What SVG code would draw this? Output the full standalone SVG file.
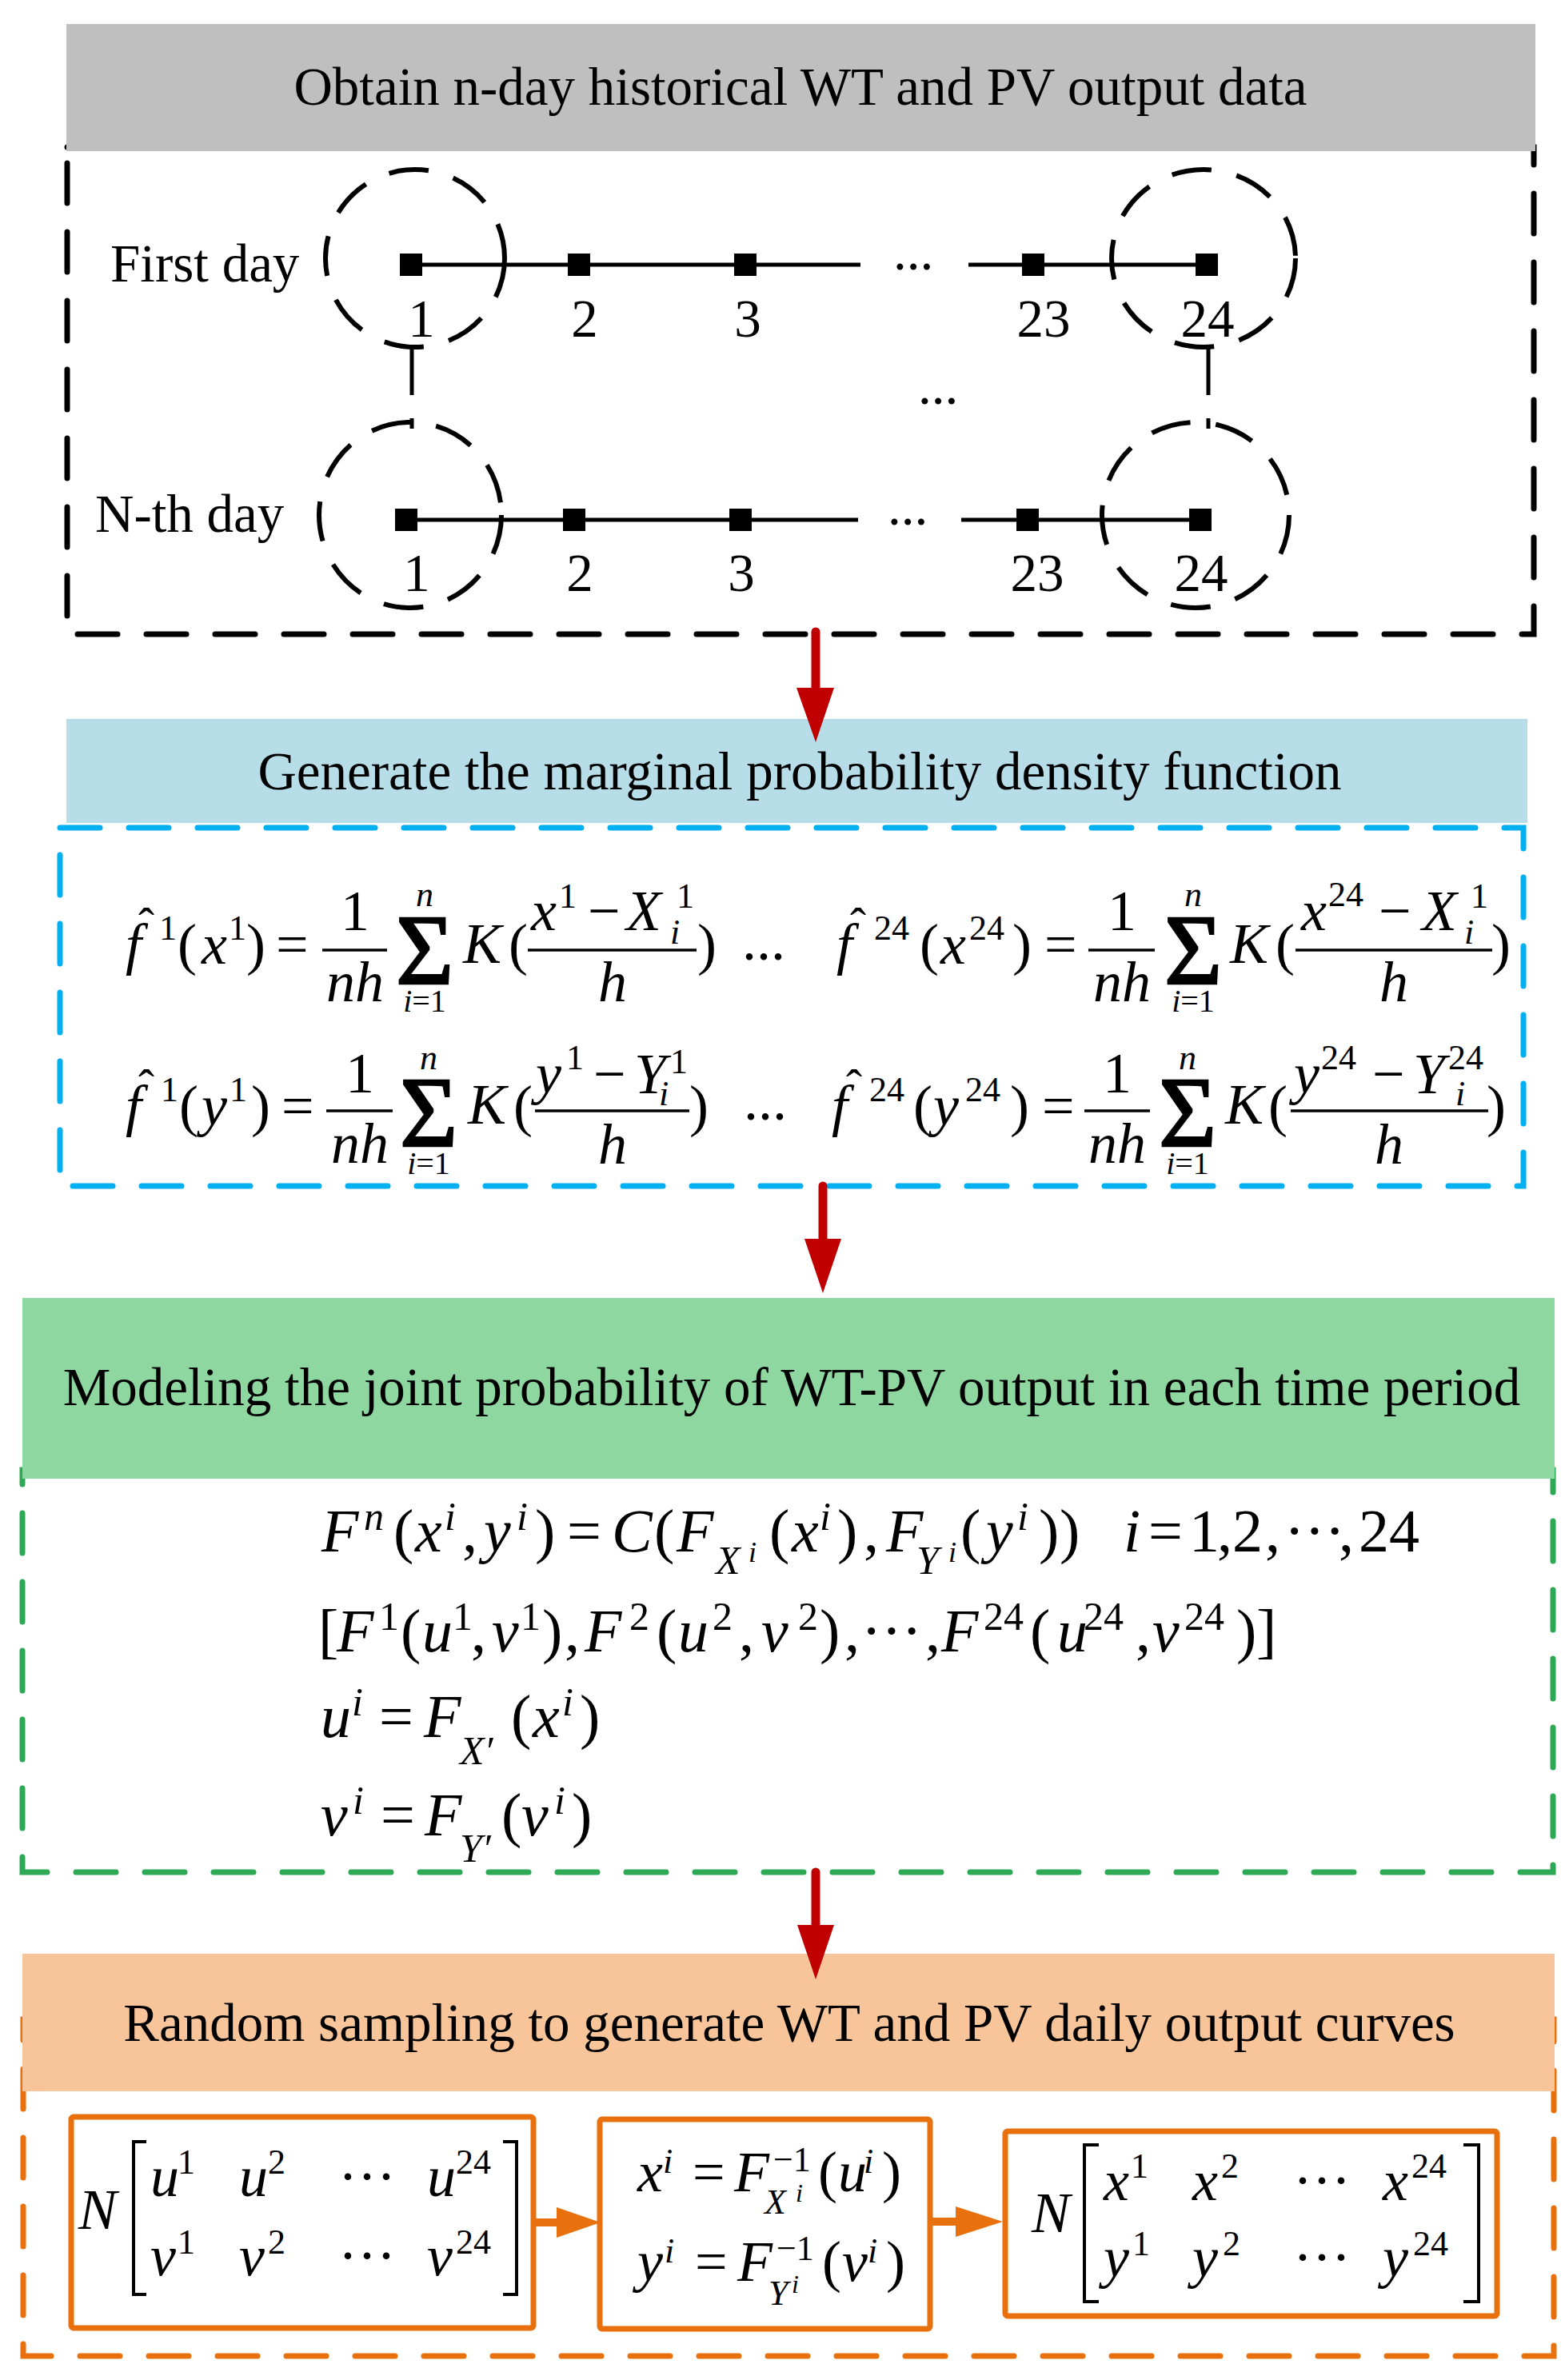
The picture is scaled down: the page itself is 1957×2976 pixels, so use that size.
<svg xmlns="http://www.w3.org/2000/svg" width="1957" height="2976" viewBox="0 0 1957 2976">
<style>
text{font-family:"Liberation Serif","Times New Roman",serif;fill:#000}
.i{font-style:italic}
.h{font-size:67px}
.m{font-size:72px}
.s{font-size:44px}
.l{font-size:40px}
.M{font-size:76px}
.S{font-size:50px}
.t36{font-size:36px}
.t32{font-size:32px}
.hat{font-size:60px}
.sig{font-size:124px;stroke:#000;stroke-width:2.5}
.c{text-anchor:middle}
.dk{fill:none;stroke:#000;stroke-width:7;stroke-dasharray:50 36;stroke-linecap:round}
.db{fill:none;stroke:#00B0F0;stroke-width:7;stroke-dasharray:50 36;stroke-linecap:round}
.dg{fill:none;stroke:#2DA955;stroke-width:7;stroke-dasharray:50 36;stroke-linecap:round}
.do{fill:none;stroke:#E8710E;stroke-width:7;stroke-dasharray:50 36;stroke-linecap:round}
.tl{stroke:#000;stroke-width:5;fill:none}
.el{fill:none;stroke:#000;stroke-width:6;stroke-dasharray:50 32}
.vc{stroke:#000;stroke-width:5;stroke-dasharray:58 29}
.sq{fill:#000}
.fr{stroke:#000;stroke-width:3.5}
.ob{fill:#fff;stroke:#E8710E;stroke-width:7}
.br{fill:none;stroke:#000;stroke-width:4}
.red{stroke:#C00000;stroke-width:11;stroke-linecap:round}
.redh{fill:#C00000}
.org{stroke:#E8710E;stroke-width:10}
.orgh{fill:#E8710E}
</style>
<rect x="0" y="0" width="1957" height="2976" fill="#fff"/>

<g id="node-obtain">
<rect x="84" y="184" width="1834" height="609" class="dk"/>
<rect x="83" y="30" width="1837" height="159" fill="#BFBFBF"/>
<text class="h c" x="1001" y="131">Obtain n-day historical WT and PV output data</text>
</g>

<g id="node-first-day">
<text class="h" x="138" y="352">First day</text>
<line class="tl" x1="514" y1="331" x2="1076" y2="331"/>
<line class="tl" x1="1211" y1="331" x2="1509" y2="331"/>
<rect class="sq" x="500" y="317" width="28" height="28"/>
<rect class="sq" x="710" y="317" width="28" height="28"/>
<rect class="sq" x="918" y="317" width="28" height="28"/>
<rect class="sq" x="1278" y="317" width="28" height="28"/>
<rect class="sq" x="1495" y="317" width="28" height="28"/>
<text class="h" x="1117" y="337">...</text>
<text class="h c" x="527" y="421">1</text>
<text class="h c" x="731" y="421">2</text>
<text class="h c" x="935" y="421">3</text>
<text class="h c" x="1305" y="421">23</text>
<text class="h c" x="1510" y="421">24</text>
<ellipse class="el" cx="519" cy="323" rx="112" ry="111"/>
<ellipse class="el" cx="1505" cy="323" rx="115" ry="111"/>
</g>

<g id="node-middle">
<text class="h" x="1148" y="505">...</text>
</g>

<g id="node-nth-day">
<text class="h" x="119" y="665">N-th day</text>
<line class="tl" x1="508" y1="650" x2="1073" y2="650"/>
<line class="tl" x1="1202" y1="650" x2="1501" y2="650"/>
<rect class="sq" x="494" y="636" width="28" height="28"/>
<rect class="sq" x="704" y="636" width="28" height="28"/>
<rect class="sq" x="912" y="636" width="28" height="28"/>
<rect class="sq" x="1271" y="636" width="28" height="28"/>
<rect class="sq" x="1487" y="636" width="28" height="28"/>
<text class="h" x="1110" y="656">...</text>
<text class="h c" x="521" y="739">1</text>
<text class="h c" x="725" y="739">2</text>
<text class="h c" x="927" y="739">3</text>
<text class="h c" x="1297" y="739">23</text>
<text class="h c" x="1502" y="739">24</text>
<ellipse class="el" cx="513" cy="644" rx="114" ry="116"/>
<ellipse class="el" cx="1495" cy="644" rx="117" ry="116"/>
</g>

<g id="node-marginal">
<rect x="75" y="1035" width="1830" height="448" class="db"/>
<rect x="83" y="899" width="1827" height="130" fill="#B7DDE8"/>
<text class="h c" x="1000" y="987">Generate the marginal probability density function</text>
</g>

<g id="formula-fx1">
<text class="m i" x="157" y="1205">f</text>
<text class="hat c" x="183" y="1176">ˆ</text>
<text class="s" x="199" y="1175">1</text>
<text class="m" x="222" y="1205">(</text>
<text class="m i" x="252" y="1205">x</text>
<text class="s" x="286" y="1175">1</text>
<text class="m" x="308" y="1205">)</text>
<text class="m" x="345" y="1205">=</text>
<text class="m c" x="444" y="1163">1</text>
<line class="fr" x1="403" y1="1188" x2="484" y2="1188"/>
<text class="m i c" x="444" y="1252">nh</text>
<text class="sig c" x="531" y="1230">Σ</text>
<text class="s i c" x="531" y="1133">n</text>
<text class="l c" x="531" y="1265"><tspan class="i">i</tspan>=1</text>
<text class="m i" x="579" y="1204">K</text>
<text class="m" x="636" y="1205">(</text>
<text class="m i" x="664" y="1163">x</text>
<text class="s" x="699" y="1135">1</text>
<text class="m" x="735" y="1163">−</text>
<text class="m i" x="783" y="1163">X</text>
<text class="s" x="846" y="1135">1</text>
<text class="s i" x="838" y="1180">i</text>
<line class="fr" x1="660" y1="1188" x2="871" y2="1188"/>
<text class="m i c" x="766" y="1252">h</text>
<text class="m" x="872" y="1205">)</text>
<text class="m" x="928" y="1200">...</text>
</g>

<g id="formula-fx24">
<text class="m i" x="1046" y="1205">f</text>
<text class="hat c" x="1073" y="1176">ˆ</text>
<text class="s" x="1093" y="1175">24</text>
<text class="m" x="1150" y="1205">(</text>
<text class="m i" x="1176" y="1205">x</text>
<text class="s" x="1212" y="1175">24</text>
<text class="m" x="1266" y="1205">)</text>
<text class="m" x="1306" y="1205">=</text>
<text class="m c" x="1403" y="1163">1</text>
<line class="fr" x1="1361" y1="1188" x2="1444" y2="1188"/>
<text class="m i c" x="1403" y="1252">nh</text>
<text class="sig c" x="1492" y="1230">Σ</text>
<text class="s i c" x="1492" y="1133">n</text>
<text class="l c" x="1492" y="1265"><tspan class="i">i</tspan>=1</text>
<text class="m i" x="1538" y="1204">K</text>
<text class="m" x="1595" y="1205">(</text>
<text class="m i" x="1627" y="1163">x</text>
<text class="s" x="1661" y="1133">24</text>
<text class="m" x="1724" y="1163">−</text>
<text class="m i" x="1778" y="1163">X</text>
<text class="s" x="1839" y="1135">1</text>
<text class="s i" x="1831" y="1180">i</text>
<line class="fr" x1="1620" y1="1188" x2="1866" y2="1188"/>
<text class="m i c" x="1743" y="1252">h</text>
<text class="m" x="1865" y="1205">)</text>
</g>

<g id="formula-fy1">
<text class="m i" x="157" y="1407">f</text>
<text class="hat c" x="183" y="1378">ˆ</text>
<text class="s" x="201" y="1377">1</text>
<text class="m" x="224" y="1407">(</text>
<text class="m i" x="252" y="1407">y</text>
<text class="s" x="287" y="1377">1</text>
<text class="m" x="314" y="1407">)</text>
<text class="m" x="352" y="1407">=</text>
<text class="m c" x="450" y="1366">1</text>
<line class="fr" x1="408" y1="1389" x2="491" y2="1389"/>
<text class="m i c" x="450" y="1454">nh</text>
<text class="sig c" x="536" y="1433">Σ</text>
<text class="s i c" x="536" y="1337">n</text>
<text class="l c" x="536" y="1468"><tspan class="i">i</tspan>=1</text>
<text class="m i" x="585" y="1405">K</text>
<text class="m" x="642" y="1407">(</text>
<text class="m i" x="670" y="1367">y</text>
<text class="s" x="708" y="1337">1</text>
<text class="m" x="742" y="1367">−</text>
<text class="m i" x="793" y="1367">Y</text>
<text class="s" x="838" y="1342">1</text>
<text class="s i" x="824" y="1382">i</text>
<line class="fr" x1="669" y1="1389" x2="862" y2="1389"/>
<text class="m i c" x="766" y="1455">h</text>
<text class="m" x="862" y="1407">)</text>
<text class="m" x="930" y="1400">...</text>
</g>

<g id="formula-fy24">
<text class="m i" x="1040" y="1407">f</text>
<text class="hat c" x="1068" y="1378">ˆ</text>
<text class="s" x="1087" y="1377">24</text>
<text class="m" x="1142" y="1407">(</text>
<text class="m i" x="1167" y="1407">y</text>
<text class="s" x="1207" y="1377">24</text>
<text class="m" x="1263" y="1407">)</text>
<text class="m" x="1303" y="1407">=</text>
<text class="m c" x="1397" y="1366">1</text>
<line class="fr" x1="1356" y1="1389" x2="1438" y2="1389"/>
<text class="m i c" x="1397" y="1454">nh</text>
<text class="sig c" x="1485" y="1433">Σ</text>
<text class="s i c" x="1485" y="1337">n</text>
<text class="l c" x="1485" y="1468"><tspan class="i">i</tspan>=1</text>
<text class="m i" x="1532" y="1405">K</text>
<text class="m" x="1586" y="1407">(</text>
<text class="m i" x="1618" y="1367">y</text>
<text class="s" x="1652" y="1337">24</text>
<text class="m" x="1716" y="1367">−</text>
<text class="m i" x="1767" y="1367">Y</text>
<text class="s" x="1811" y="1337">24</text>
<text class="s i" x="1820" y="1382">i</text>
<line class="fr" x1="1614" y1="1389" x2="1861" y2="1389"/>
<text class="m i c" x="1737" y="1455">h</text>
<text class="m" x="1859" y="1407">)</text>
</g>

<g id="node-joint">
<rect x="28" y="1838" width="1914" height="503" class="dg"/>
<rect x="28" y="1623" width="1916" height="226" fill="#8ED7A0"/>
<text class="h c" x="990" y="1757">Modeling the joint probability of WT-PV output in each time period</text>
</g>

<g id="formula-copula">
<text class="M i" x="402" y="1940">F</text>
<text class="S i" x="455" y="1913">n</text>
<text class="M" x="492" y="1940">(</text>
<text class="M i" x="519" y="1940">x</text>
<text class="S i" x="556" y="1913">i</text>
<text class="M" x="578" y="1940">,</text>
<text class="M i" x="605" y="1940">y</text>
<text class="S i" x="646" y="1913">i</text>
<text class="M" x="669" y="1940">)</text>
<text class="M" x="709" y="1940">=</text>
<text class="M i" x="765" y="1940">C</text>
<text class="M" x="818" y="1940">(</text>
<text class="M i" x="846" y="1940">F</text>
<text class="S i" x="895" y="1968">X</text>
<text class="t36 i" x="936" y="1953">i</text>
<text class="M" x="962" y="1940">(</text>
<text class="M i" x="990" y="1940">x</text>
<text class="S i" x="1025" y="1913">i</text>
<text class="M" x="1047" y="1940">)</text>
<text class="M" x="1080" y="1940">,</text>
<text class="M i" x="1108" y="1940">F</text>
<text class="S i" x="1146" y="1968">Y</text>
<text class="t36 i" x="1186" y="1953">i</text>
<text class="M" x="1201" y="1940">(</text>
<text class="M i" x="1233" y="1940">y</text>
<text class="S i" x="1272" y="1913">i</text>
<text class="M" x="1299" y="1940">)</text>
<text class="M" x="1325" y="1940">)</text>
<text class="M i" x="1405" y="1940">i</text>
<text class="M" x="1436" y="1940">=</text>
<text class="M" y="1940"><tspan x="1487">1</tspan><tspan x="1522">,</tspan><tspan x="1541">2</tspan><tspan x="1582">,</tspan><tspan x="1606">···</tspan><tspan x="1674">,</tspan><tspan x="1699">24</tspan></text>
</g>

<g id="formula-sequence">
<text class="M" x="398" y="2065">[</text>
<text class="M i" x="421" y="2065">F</text>
<text class="S" x="474" y="2038">1</text>
<text class="M" x="501" y="2065">(</text>
<text class="M i" x="528" y="2065">u</text>
<text class="S" x="566" y="2038">1</text>
<text class="M" x="589" y="2065">,</text>
<text class="M i" x="615" y="2065">ν</text>
<text class="S" x="651" y="2038">1</text>
<text class="M" x="678" y="2065">)</text>
<text class="M" x="706" y="2065">,</text>
<text class="M i" x="731" y="2065">F</text>
<text class="S" x="787" y="2038">2</text>
<text class="M" x="821" y="2065">(</text>
<text class="M i" x="848" y="2065">u</text>
<text class="S" x="891" y="2038">2</text>
<text class="M" x="924" y="2065">,</text>
<text class="M i" x="952" y="2065">ν</text>
<text class="S" x="998" y="2038">2</text>
<text class="M" x="1025" y="2065">)</text>
<text class="M" x="1056" y="2065">,</text>
<text class="M" x="1077" y="2065">···</text>
<text class="M" x="1157" y="2065">,</text>
<text class="M i" x="1177" y="2065">F</text>
<text class="S" x="1230" y="2038">24</text>
<text class="M" x="1288" y="2065">(</text>
<text class="M i" x="1322" y="2065">u</text>
<text class="S" x="1355" y="2038">24</text>
<text class="M" x="1420" y="2065">,</text>
<text class="M i" x="1441" y="2065">ν</text>
<text class="S" x="1481" y="2038">24</text>
<text class="M" x="1546" y="2065">)</text>
<text class="M" x="1571" y="2065">]</text>
</g>

<g id="formula-u">
<text class="M i" x="401" y="2172">u</text>
<text class="S i" x="440" y="2145">i</text>
<text class="M" x="474" y="2172">=</text>
<text class="M i" x="530" y="2172">F</text>
<text class="S i" x="575" y="2206">X′</text>
<text class="M" x="639" y="2172">(</text>
<text class="M i" x="666" y="2172">x</text>
<text class="S i" x="703" y="2145">i</text>
<text class="M" x="725" y="2172">)</text>
</g>

<g id="formula-v">
<text class="M i" x="401" y="2295">ν</text>
<text class="S i" x="441" y="2268">i</text>
<text class="M" x="476" y="2295">=</text>
<text class="M i" x="531" y="2295">F</text>
<text class="S i" x="575" y="2328">Y′</text>
<text class="M" x="627" y="2295">(</text>
<text class="M i" x="652" y="2295">ν</text>
<text class="S i" x="693" y="2268">i</text>
<text class="M" x="715" y="2295">)</text>
</g>

<g id="node-sampling">
<rect x="29" y="2525" width="1914" height="421" class="do"/>
<rect x="28" y="2443" width="1916" height="172" fill="#F8C59B"/>
<text class="h c" x="987" y="2552">Random sampling to generate WT and PV daily output curves</text>
</g>

<g id="node-matrix-uv">
<rect class="ob" x="89" y="2647" width="578" height="264" rx="3"/>
<text class="m i" x="98" y="2787">N</text>
<path class="br" d="M183,2678 H167 V2869 H183"/>
<path class="br" d="M629,2678 H646 V2869 H629"/>
<text class="m i" x="188" y="2746">u</text>
<text class="s" x="222" y="2718">1</text>
<text class="m i" x="299" y="2746">u</text>
<text class="s" x="335" y="2718">2</text>
<text class="m" x="423" y="2746">···</text>
<text class="m i" x="534" y="2746">u</text>
<text class="s" x="570" y="2718">24</text>
<text class="m i" x="188" y="2845">ν</text>
<text class="s" x="222" y="2818">1</text>
<text class="m i" x="299" y="2845">ν</text>
<text class="s" x="335" y="2818">2</text>
<text class="m" x="423" y="2845">···</text>
<text class="m i" x="534" y="2845">ν</text>
<text class="s" x="570" y="2818">24</text>
</g>

<g id="node-inverse">
<rect class="ob" x="750" y="2650" width="413" height="262" rx="3"/>
<text class="m i" x="797" y="2740">x</text>
<text class="s i" x="829" y="2717">i</text>
<text class="m" x="866" y="2740">=</text>
<text class="m i" x="918" y="2740">F</text>
<text class="s" x="967" y="2715">−1</text>
<text class="s i" x="956" y="2768">X</text>
<text class="t32 i" x="995" y="2753">i</text>
<text class="m" x="1023" y="2740">(</text>
<text class="m i" x="1048" y="2740">u</text>
<text class="s i" x="1080" y="2717">i</text>
<text class="m" x="1103" y="2740">)</text>
<text class="m i" x="797" y="2852">y</text>
<text class="s i" x="831" y="2829">i</text>
<text class="m" x="869" y="2852">=</text>
<text class="m i" x="922" y="2852">F</text>
<text class="s" x="971" y="2826">−1</text>
<text class="s i" x="961" y="2882">Y</text>
<text class="t32 i" x="990" y="2867">i</text>
<text class="m" x="1028" y="2852">(</text>
<text class="m i" x="1053" y="2852">ν</text>
<text class="s i" x="1085" y="2829">i</text>
<text class="m" x="1108" y="2852">)</text>
</g>

<g id="node-matrix-xy">
<rect class="ob" x="1257" y="2665" width="615" height="231" rx="3"/>
<text class="m i" x="1290" y="2791">N</text>
<path class="br" d="M1374,2682 H1356 V2878 H1374"/>
<path class="br" d="M1830,2682 H1849 V2878 H1830"/>
<text class="m i" x="1380" y="2751">x</text>
<text class="s" x="1414" y="2723">1</text>
<text class="m i" x="1491" y="2751">x</text>
<text class="s" x="1527" y="2723">2</text>
<text class="m" x="1617" y="2751">···</text>
<text class="m i" x="1729" y="2751">x</text>
<text class="s" x="1765" y="2723">24</text>
<text class="m i" x="1380" y="2847">y</text>
<text class="s" x="1416" y="2820">1</text>
<text class="m i" x="1491" y="2847">y</text>
<text class="s" x="1529" y="2820">2</text>
<text class="m" x="1617" y="2847">···</text>
<text class="m i" x="1729" y="2847">y</text>
<text class="s" x="1767" y="2820">24</text>
</g>

<g id="connectors">
<line class="vc" x1="515" y1="436" x2="515" y2="536"/>
<line class="vc" x1="1511" y1="436" x2="1511" y2="536"/>
<line class="red" x1="1020" y1="790" x2="1020" y2="866"/>
<polygon class="redh" points="996,860 1043,860 1020,928"/>
<line class="red" x1="1029" y1="1483" x2="1029" y2="1555"/>
<polygon class="redh" points="1006,1549 1052,1549 1029,1617"/>
<line class="red" x1="1020" y1="2341" x2="1020" y2="2413"/>
<polygon class="redh" points="997,2407 1043,2407 1020,2475"/>
<line class="org" x1="667" y1="2779" x2="700" y2="2779"/>
<polygon class="orgh" points="696,2760 751,2779 696,2798"/>
<line class="org" x1="1163" y1="2778" x2="1200" y2="2778"/>
<polygon class="orgh" points="1195,2759 1254,2778 1195,2797"/>
</g>
</svg>
